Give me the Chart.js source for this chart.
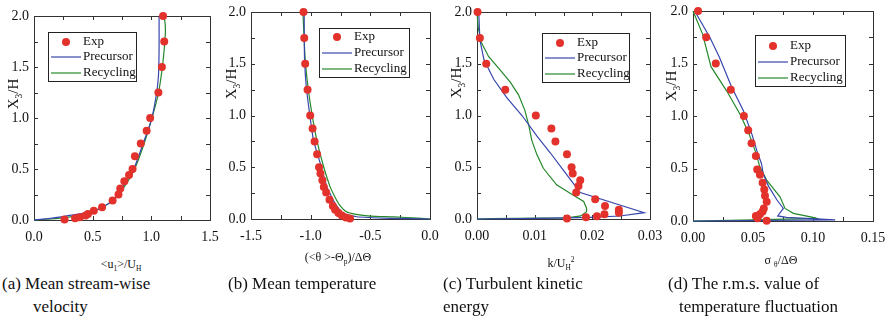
<!DOCTYPE html>
<html lang="en">
<head>
<meta charset="UTF-8">
<title>Boundary layer profiles</title>
<script src="https://cdn.jsdelivr.net/npm/chart.js"></script>
<style>
  body { margin: 0; background: #fff; font-family: "Liberation Serif", "Times New Roman", serif; color: #111; }
  #page { position: relative; width: 887px; height: 326px; overflow: hidden; }
  canvas { position: absolute; top: 0; }
  .ytitle, .xtitle, .caption { position: absolute; white-space: nowrap; }
  .ytitle { font-size: 15px; transform: translate(-50%, -50%) rotate(-90deg); }
  .xtitle { font-size: 12px; transform: translateX(-50%); }
  sub, sup { font-size: 62%; line-height: 0; }
  .caption { font-size: 17px; line-height: 23px; }
</style>
</head>
<body>
<div id="page">
  <canvas id="chartA" width="224" height="250" style="left:0px"></canvas>
  <canvas id="chartB" width="227" height="250" style="left:217px"></canvas>
  <canvas id="chartC" width="221" height="250" style="left:443px"></canvas>
  <canvas id="chartD" width="228" height="250" style="left:659px"></canvas>

  <div class="ytitle" style="left:13px; top:94px">X<sub>3</sub>/H</div>
  <div class="ytitle" style="left:231px; top:84px">X<sub>3</sub>/H</div>
  <div class="ytitle" style="left:456px; top:83px">X<sub>3</sub>/H</div>
  <div class="ytitle" style="left:671px; top:86px">X<sub>3</sub>/H</div>

  <div class="xtitle" style="left:121px; top:257px">&lt;u<sub>1</sub>&gt;/U<sub>H</sub></div>
  <div class="xtitle" style="left:338px; top:250px">(&lt;θ &gt;-Θ<sub>p</sub>)/ΔΘ</div>
  <div class="xtitle" style="left:561px; top:256px">k/U<sub>H</sub><sup>2</sup></div>
  <div class="xtitle" style="left:781px; top:253px">σ <sub>θ</sub>/ΔΘ</div>

  <div class="caption" style="left:2px; top:272px">(a) Mean stream-wise<br><span style="padding-left:31px">velocity</span></div>
  <div class="caption" style="left:228px; top:272px">(b) Mean temperature</div>
  <div class="caption" style="left:443px; top:272px">(c) Turbulent kinetic<br>energy</div>
  <div class="caption" style="left:668px; top:272px">(d) The r.m.s. value of<br><span style="padding-left:11px">temperature fluctuation</span></div>
</div>

<script>
// (a) mean stream-wise velocity  [x, X3/H]
var velExp = [[0.26,0.005],[0.35,0.016],[0.39,0.026],[0.44,0.045],[0.46,0.06],[0.51,0.09],[0.58,0.125],[0.67,0.19],[0.72,0.25],[0.735,0.31],[0.77,0.38],[0.81,0.44],[0.84,0.5],[0.86,0.625],[0.91,0.75],[0.96,0.875],[0.99,1.0],[1.06,1.25],[1.09,1.5],[1.11,1.75],[1.1,2.0]];
var velPre = [[0,0],[0.14,0.016],[0.28,0.04],[0.42,0.065],[0.51,0.09],[0.59,0.13],[0.68,0.2],[0.76,0.33],[0.85,0.5],[0.93,0.75],[1.0,0.98],[1.04,1.21],[1.06,1.4],[1.066,1.66],[1.066,2.0]];
var velRec = [[0,0],[0.14,0.01],[0.28,0.026],[0.42,0.055],[0.56,0.11],[0.68,0.2],[0.76,0.31],[0.85,0.48],[0.93,0.72],[1.0,0.98],[1.06,1.24],[1.094,1.5],[1.114,1.73],[1.12,1.86],[1.114,1.96],[1.1,2.0]];

// (b) mean temperature
var tempExp = [[-1.06,2.0],[-1.054,1.75],[-1.046,1.5],[-1.026,1.25],[-1.004,1.0],[-0.984,0.875],[-0.967,0.75],[-0.946,0.625],[-0.93,0.5],[-0.918,0.44],[-0.902,0.375],[-0.89,0.31],[-0.87,0.255],[-0.842,0.186],[-0.814,0.126],[-0.795,0.09],[-0.767,0.057],[-0.739,0.033],[-0.705,0.014],[-0.67,0.004]];
var tempPre = [[0,0],[-0.334,0.007],[-0.615,0.022],[-0.725,0.055],[-0.795,0.15],[-0.836,0.24],[-0.864,0.31],[-0.92,0.54],[-0.976,0.76],[-1.009,1.02],[-1.037,1.28],[-1.051,1.54],[-1.054,1.8],[-1.054,2.0]];
var tempRec = [[0,0],[-0.1,0.008],[-0.3,0.02],[-0.5,0.028],[-0.62,0.045],[-0.7,0.07],[-0.76,0.14],[-0.8,0.22],[-0.84,0.32],[-0.89,0.5],[-0.948,0.76],[-0.99,1.02],[-1.023,1.28],[-1.046,1.54],[-1.057,1.8],[-1.065,2.0]];

// (c) turbulent kinetic energy
var tkeExp = [[0.0001,2.0],[0.0005,1.75],[0.0016,1.5],[0.0049,1.25],[0.0102,1.0],[0.0129,0.875],[0.0136,0.75],[0.0156,0.625],[0.0164,0.5],[0.0166,0.44],[0.0179,0.375],[0.0176,0.32],[0.0172,0.255],[0.0205,0.19],[0.0222,0.126],[0.0246,0.09],[0.0246,0.06],[0.0221,0.046],[0.0208,0.027],[0.0189,0.016],[0.0156,0.005]];
var tkePre = [[0,0],[0.011,0.007],[0.0196,0.016],[0.0248,0.029],[0.029,0.061],[0.0179,0.255],[0.0167,0.345],[0.015,0.47],[0.0127,0.64],[0.0104,0.8],[0.0078,1.0],[0.0052,1.17],[0.0029,1.35],[0.0012,1.54],[0.0005,1.73],[0.0003,2.0]];
var tkeRec = [[0,0],[0.0024,0.005],[0.0156,0.01],[0.018,0.03],[0.019,0.07],[0.019,0.104],[0.0185,0.17],[0.0167,0.23],[0.0138,0.33],[0.0115,0.49],[0.0104,0.62],[0.0095,0.76],[0.009,0.9],[0.0083,1.05],[0.0072,1.2],[0.0058,1.32],[0.004,1.44],[0.002,1.57],[0.0008,1.7],[0.0002,1.85],[0,2.0]];

// (d) r.m.s. temperature fluctuation
var rmsExp = [[0.0042,2.0],[0.011,1.75],[0.019,1.5],[0.0315,1.25],[0.0424,1.0],[0.046,0.865],[0.0488,0.74],[0.0524,0.62],[0.0535,0.49],[0.0558,0.44],[0.058,0.364],[0.0594,0.3],[0.06,0.24],[0.0614,0.184],[0.059,0.12],[0.058,0.09],[0.0558,0.064],[0.0524,0.048],[0.0538,0.026],[0.0614,0.003]];
var rmsPre = [[0.0014,2.0],[0.014,1.75],[0.022,1.56],[0.032,1.28],[0.042,1.05],[0.049,0.83],[0.054,0.64],[0.057,0.55],[0.0585,0.45],[0.063,0.33],[0.07,0.2],[0.0753,0.12],[0.0706,0.048],[0.078,0.035],[0.1185,0.01],[0,0]];
var rmsRec = [[0,2.0],[0.008,1.78],[0.015,1.47],[0.028,1.24],[0.04,1.0],[0.047,0.82],[0.053,0.63],[0.0555,0.52],[0.0614,0.39],[0.0725,0.23],[0.0767,0.12],[0.0836,0.073],[0.1,0.035],[0.103,0.025],[0.05,0.01],[0,0]];

var RED = '#e3322b', BLUE = '#3846ac', GREEN = '#24882a';
var FONT = '"Liberation Serif", "Times New Roman", serif';

function toXY(arr) {
    return arr.map(function (p) { return { x: p[0], y: p[1] }; });
}

// box with inward ticks on all four sides
var frameTicks = {
    id: 'frameTicks',
    beforeDatasetsDraw: function (chart) {
        var ctx = chart.ctx, a = chart.chartArea, xs = chart.scales.x, ys = chart.scales.y;
        ctx.save();
        ctx.strokeStyle = '#333';
        ctx.lineWidth = 1;
        ctx.strokeRect(Math.round(a.left) + 0.5, Math.round(a.top) + 0.5, Math.round(a.right - a.left), Math.round(a.bottom - a.top));
        ctx.beginPath();
        xs.ticks.forEach(function (t) {
            var px = Math.round(xs.getPixelForValue(t.value)) + 0.5;
            ctx.moveTo(px, a.bottom); ctx.lineTo(px, a.bottom - 4);
            ctx.moveTo(px, a.top); ctx.lineTo(px, a.top + 4);
        });
        ys.ticks.forEach(function (t) {
            var py = Math.round(ys.getPixelForValue(t.value)) + 0.5;
            ctx.moveTo(a.left, py); ctx.lineTo(a.left + 4, py);
            ctx.moveTo(a.right, py); ctx.lineTo(a.right - 4, py);
        });
        ctx.stroke();
        ctx.restore();
    }
};

// framed legend inside the plot area
var boxLegend = {
    id: 'boxLegend',
    afterDatasetsDraw: function (chart, args, opts) {
        var ctx = chart.ctx, a = chart.chartArea;
        var bx = Math.round(a.left + opts.dx), by = Math.round(a.top + opts.dy);
        ctx.save();
        ctx.fillStyle = '#fff';
        ctx.fillRect(bx, by, opts.w, opts.h);
        ctx.strokeStyle = '#222';
        ctx.lineWidth = 1;
        ctx.strokeRect(bx + 0.5, by + 0.5, opts.w, opts.h);
        ctx.font = '13px ' + FONT;
        ctx.textBaseline = 'middle';
        chart.data.datasets.forEach(function (ds, i) {
            var ry = by + opts.rows[i];
            if (ds.showLine) {
                ctx.strokeStyle = ds.borderColor;
                ctx.lineWidth = 1.2;
                ctx.beginPath();
                ctx.moveTo(bx + 3, ry); ctx.lineTo(bx + 33, ry);
                ctx.stroke();
            } else {
                ctx.fillStyle = ds.pointBackgroundColor;
                ctx.beginPath();
                ctx.arc(bx + 18, ry, 4, 0, Math.PI * 2);
                ctx.fill();
            }
            ctx.fillStyle = '#111';
            ctx.fillText(ds.label, bx + 35, ry);
        });
        ctx.restore();
    }
};

function makePanel(id, p) {
    var canvas = document.getElementById(id);
    var left = parseInt(canvas.style.left, 10);
    var yWidth = p.L - left;
    var xHeight = canvas.height - p.B;

    return new Chart(canvas, {
        type: 'scatter',
        data: {
            datasets: [
                { label: 'Exp', data: toXY(p.exp), showLine: false, pointRadius: 4, pointBorderWidth: 0,
                  pointBackgroundColor: RED, pointBorderColor: RED, clip: 6 },
                { label: 'Precursor', data: toXY(p.pre), showLine: true, pointRadius: 0, borderColor: BLUE,
                  borderWidth: 1.2, tension: p.tension, clip: 2 },
                { label: 'Recycling', data: toXY(p.rec), showLine: true, pointRadius: 0, borderColor: GREEN,
                  borderWidth: 1.2, tension: p.tension, clip: 2 }
            ]
        },
        options: {
            responsive: false,
            animation: false,
            events: [],
            layout: { padding: { top: p.T, right: 14, bottom: 0, left: 0 } },
            plugins: {
                legend: { display: false },
                tooltip: { enabled: false },
                boxLegend: p.legend
            },
            scales: {
                x: {
                    type: 'linear', min: p.xMin, max: p.xMax,
                    grid: { display: false, drawTicks: false, tickLength: 0 },
                    border: { display: false },
                    ticks: {
                        stepSize: p.xStep, autoSkip: false, maxRotation: 0, padding: 9,
                        color: '#111', font: { family: FONT, size: 14 },
                        callback: function (v) {
                            var k = v / p.xMajor;
                            return Math.abs(k - Math.round(k)) < 1e-6 ? v.toFixed(p.xDec) : '';
                        }
                    },
                    afterFit: function (s) { s.height = xHeight; s.paddingLeft = 0; s.paddingRight = 0; }
                },
                y: {
                    type: 'linear', min: 0, max: 2,
                    grid: { display: false, drawTicks: false, tickLength: 0 },
                    border: { display: false },
                    ticks: {
                        stepSize: 0.25, autoSkip: false, padding: 5,
                        color: '#111', font: { family: FONT, size: 14 },
                        callback: function (v) {
                            var k = v / 0.5;
                            return Math.abs(k - Math.round(k)) < 1e-6 ? v.toFixed(1) : '';
                        }
                    },
                    afterFit: function (s) { s.width = yWidth; s.paddingTop = 0; s.paddingBottom = 0; }
                }
            }
        },
        plugins: [frameTicks, boxLegend]
    });
}

makePanel('chartA', { L: 34, T: 16, B: 220, exp: velExp, pre: velPre, rec: velRec, tension: 0.2,
    xMin: 0, xMax: 1.5, xStep: 0.25, xMajor: 0.5, xDec: 1,
    legend: { dx: 14, dy: 16, w: 88, h: 49, rows: [10, 25, 41] } });
makePanel('chartB', { L: 251, T: 12, B: 219, exp: tempExp, pre: tempPre, rec: tempRec, tension: 0.2,
    xMin: -1.5, xMax: 0, xStep: 0.25, xMajor: 0.5, xDec: 1,
    legend: { dx: 68, dy: 16, w: 90, h: 49, rows: [9, 25, 41] } });
makePanel('chartC', { L: 477, T: 12, B: 219, exp: tkeExp, pre: tkePre, rec: tkeRec, tension: 0,
    xMin: 0, xMax: 0.03, xStep: 0.005, xMajor: 0.01, xDec: 2,
    legend: { dx: 65, dy: 21, w: 87, h: 49, rows: [10, 25, 41] } });
makePanel('chartD', { L: 693, T: 11, B: 221, exp: rmsExp, pre: rmsPre, rec: rmsRec, tension: 0,
    xMin: 0, xMax: 0.15, xStep: 0.025, xMajor: 0.05, xDec: 2,
    legend: { dx: 62, dy: 24, w: 90, h: 51, rows: [11, 27, 43] } });
</script>
</body>
</html>
